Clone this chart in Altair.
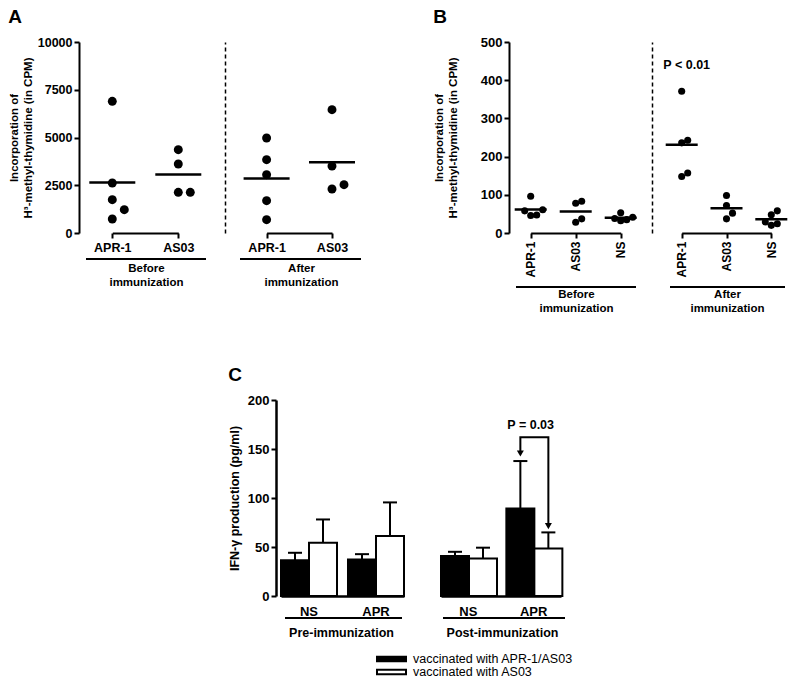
import altair as alt
import pandas as pd

FONT = "Liberation Sans"

# ---------------- data ----------------
a_cats = ["APR-1", "AS03"]
a_before_apr1 = [6895, 2618, 1745, 1222, 733]
a_before_as03 = [4363, 3613, 2130, 2130]
a_after_apr1 = [4974, 3839, 3054, 1693, 698]
a_after_as03 = [6457, 3508, 2531, 2304]
a_yticks = [0, 2500, 5000, 7500, 10000]

b_cats = ["APR-1", "AS03", "NS"]
b_before_apr1 = [96, 61, 58, 47, 46]
b_before_as03 = [83, 78, 37, 28]
b_before_ns = [53, 41, 38, 35, 32]
b_after_apr1 = [371, 243, 236, 157, 148]
b_after_as03 = [98, 72, 52, 37]
b_after_ns = [58, 48, 29, 24, 20]
b_yticks = [0, 100, 200, 300, 400, 500]

c_stims = ["NS", "APR"]
c_vaccines = ["vaccinated with APR-1/AS03", "vaccinated with AS03"]
c_pre_apr_mean = [36.6, 37.3]
c_pre_apr_err = [44.1, 42.7]
c_pre_as03_mean = [54.3, 61.1]
c_pre_as03_err = [78.1, 95.5]
c_post_apr_mean = [40.7, 89.4]
c_post_apr_err = [45.1, 137.7]
c_post_as03_mean = [38.3, 48.5]
c_post_as03_err = [49.3, 64.9]
c_yticks = [0, 50, 100, 150, 200]
c_bracket_y = [145.5, 162, 162, 71.3]
c_arrow_y = [145.5, 71.3]
c_p_text_y = 175

NO_FRAME = alt.ViewBackground(stroke=None)


# ---------------- helpers ----------------
def swarm(values, px_per_unit, diam, step):
    placed = []
    offs = [0.0] * len(values)
    order = sorted(range(len(values)), key=lambda i: values[i])
    cands = [0.0]
    for j in range(1, 12):
        cands += [j * step, -j * step]
    for i in order:
        y = values[i] * px_per_unit
        chosen = cands[-1]
        for c in cands:
            if all((c - px) ** 2 + (y - py) ** 2 >= diam ** 2 - 1e-6 for px, py in placed):
                chosen = c
                break
        placed.append((chosen, y))
        offs[i] = chosen
    return offs


def scatter_frame(cats, series, px_per_unit, diam, step):
    rows = []
    for cat, vals in zip(cats, series):
        for v, o in zip(vals, swarm(vals, px_per_unit, diam, step)):
            rows.append({"cat": cat, "value": v, "dodge": o})
    return pd.DataFrame(rows)


def ax(**kw):
    base = dict(labelFont=FONT, titleFont=FONT, labelColor="black", titleColor="black",
                labelFontWeight="bold", titleFontWeight="bold", domainColor="black",
                tickColor="black", grid=False)
    base.update(kw)
    return alt.Axis(**base)


one = pd.DataFrame({"k": [0]})


def underline(x0, x1, y):
    return alt.Chart(one).mark_rule(color="black", strokeWidth=1.8).encode(
        x=alt.value(x0), x2=alt.value(x1), y=alt.value(y))


def pscale(cats, rng):
    return alt.Scale(type="point", domain=cats, range=rng, padding=0)


def scatter_sub(df, cats, xrange, width, height, ydomain, yaxis, xaxis,
                psize, tlen, uline, extra=None, title=None):
    xs = alt.X("cat:N", scale=pscale(cats, xrange), axis=xaxis)
    ys = alt.Y("value:Q", scale=alt.Scale(domain=ydomain, nice=False), axis=yaxis)
    pts = alt.Chart(df).mark_circle(size=psize, color="black", opacity=1).encode(
        x=xs, y=ys,
        xOffset=alt.XOffset("dodge:Q", scale=alt.Scale(domain=[-40, 40], range=[-40, 40])))
    mean = alt.Chart(df).mark_tick(color="black", size=tlen, thickness=2.5, opacity=1).encode(
        x=xs, y=alt.Y("mean(value):Q", scale=alt.Scale(domain=ydomain, nice=False), axis=yaxis))
    layers = [pts, mean, uline]
    if extra is not None:
        layers.append(extra)
    ch = alt.layer(*layers).properties(width=width, height=height, view=NO_FRAME)
    if title is not None:
        ch = ch.properties(title=title)
    return ch


def panel_title(t):
    return alt.TitleParams(text=t, anchor="start", frame="bounds", font=FONT, fontSize=19,
                           fontWeight="bold", color="black", offset=9)


def dash_axis():
    return alt.Axis(labels=False, ticks=False, title=None, grid=False, domainColor="black",
                    domainWidth=1.5, domainDash=[4, 3])


ytitle_cpm = ["Incorporation  of", "H\u00b3-methyl-thymidine  (in  CPM)"]

# ---------------- panel A ----------------
A_H = 191
a_ppu = A_H / 10000
dfa_b = scatter_frame(a_cats, [a_before_apr1, a_before_as03], a_ppu, 12, 12)
dfa_a = scatter_frame(a_cats, [a_after_apr1, a_after_as03], a_ppu, 12, 12)
a_yaxis = ax(values=a_yticks, format="d", title=ytitle_cpm, titleFontSize=11.5, titleLineHeight=14,
             titlePadding=4, labelFontSize=12.5, labelPadding=2, tickSize=5, tickWidth=2, domainWidth=2)


def a_xaxis(lbl, tx):
    return ax(title=lbl, titleX=tx, titleFontSize=11.5, titleLineHeight=14, titlePadding=9,
              labelFontSize=12.5, labelAngle=0, labelPadding=3, tickSize=5, tickWidth=2, domainWidth=2)


A_before = scatter_sub(dfa_b, a_cats, [33.3, 99.3], 146, A_H, [0, 10000], a_yaxis,
                       a_xaxis(["Before", "immunization"], 67), 80, 46, underline(7, 127, 217),
                       title=panel_title("A"))
A_after = scatter_sub(dfa_a, a_cats, [41.6, 107], 142, A_H, [0, 10000], dash_axis(),
                      a_xaxis(["After", "immunization"], 76), 80, 46, underline(15, 136, 217))
A = alt.hconcat(A_before, A_after, spacing=0, bounds="flush")

# ---------------- panel B ----------------
b_ppu = A_H / 500
dfb_b = scatter_frame(b_cats, [b_before_apr1, b_before_as03, b_before_ns], b_ppu, 6, 6)
dfb_a = scatter_frame(b_cats, [b_after_apr1, b_after_as03, b_after_ns], b_ppu, 6, 6)
b_yaxis = ax(values=b_yticks, format="d", title=ytitle_cpm, titleFontSize=11.5, titleLineHeight=14,
             titlePadding=22, labelFontSize=13, labelPadding=2, tickSize=5, tickWidth=2, domainWidth=2)


def b_xaxis(lbl, tx):
    return ax(title=lbl, titleX=tx, titleFontSize=11.5, titleLineHeight=14, titlePadding=11,
              labelFontSize=12, labelAngle=270, labelPadding=3, tickSize=5, tickWidth=2, domainWidth=2)


p_df = pd.DataFrame({"cat": ["APR-1"], "value": [440], "t": ["P < 0.01"]})
p_text = alt.Chart(p_df).mark_text(font=FONT, fontSize=12.5, fontWeight="bold", color="black", dx=5).encode(
    x=alt.X("cat:N", scale=pscale(b_cats, [29.7, 119.3]), axis=b_xaxis(["After", "immunization"], 75)),
    y=alt.Y("value:Q", scale=alt.Scale(domain=[0, 500], nice=False), axis=dash_axis()),
    text="t:N")

B_before = scatter_sub(dfb_b, b_cats, [21.7, 111.7], 143, A_H, [0, 500], b_yaxis,
                       b_xaxis(["Before", "immunization"], 67), 50, 32, underline(7, 127, 245),
                       title=panel_title("B"))
B_after = scatter_sub(dfb_a, b_cats, [29.7, 119.3], 134, A_H, [0, 500], dash_axis(),
                      b_xaxis(["After", "immunization"], 75), 50, 32, underline(18, 133, 245),
                      extra=p_text)
B = alt.hconcat(B_before, B_after, spacing=0, bounds="flush")

top = alt.hconcat(A, B, spacing=66)

# ---------------- panel C ----------------
C_H = 196


def bar_frame(apr_mean, apr_err, as_mean, as_err):
    rows = []
    for s, m1, e1, m2, e2 in zip(c_stims, apr_mean, apr_err, as_mean, as_err):
        rows.append({"stim": s, "vaccine": c_vaccines[0], "mean": m1, "err": e1})
        rows.append({"stim": s, "vaccine": c_vaccines[1], "mean": m2, "err": e2})
    return pd.DataFrame(rows)


dfc_pre = bar_frame(c_pre_apr_mean, c_pre_apr_err, c_pre_as03_mean, c_pre_as03_err)
dfc_post = bar_frame(c_post_apr_mean, c_post_apr_err, c_post_as03_mean, c_post_as03_err)

c_yaxis = ax(values=c_yticks, format="d", title="IFN-\u03b3 production (pg/ml)", titleFontSize=12.5,
             titlePadding=6, labelFontSize=13, labelPadding=2, tickSize=5, tickWidth=2, domainWidth=2.5)

legend = alt.Legend(orient="none", legendX=100, legendY=253, title=None,
                    symbolType="M-1,-0.16H1V0.16H-1Z", symbolSize=841,
                    symbolStrokeColor="black", symbolStrokeWidth=2, symbolOpacity=1,
                    labelFont=FONT, labelFontSize=12.5, labelColor="black", labelOffset=6,
                    clipHeight=12, rowPadding=0, padding=0, labelLimit=300)


def c_sub(df, xrange, width, lbl, tx, yaxis, uline, show_legend, extra_fn=None, title=None):
    xs = alt.X("stim:N", scale=alt.Scale(type="band", domain=c_stims, range=xrange,
                                         paddingInner=0.164, paddingOuter=0),
               axis=ax(title=lbl, titleX=tx, titleFontSize=12.5, titlePadding=8, labelFontSize=13,
                       labelAngle=0, labelPadding=9, ticks=False, domainWidth=2.5))
    xo = alt.XOffset("vaccine:N", scale=alt.Scale(domain=c_vaccines, paddingInner=0, paddingOuter=0))
    ysc = alt.Scale(domain=[0, 200], nice=False)
    bars = alt.Chart(df).mark_bar(stroke="black", strokeWidth=2, opacity=1).encode(
        x=xs, xOffset=xo, y=alt.Y("mean:Q", scale=ysc, axis=yaxis),
        fill=alt.Fill("vaccine:N", scale=alt.Scale(domain=c_vaccines, range=["black", "white"]),
                      legend=legend if show_legend else None))
    errs = alt.Chart(df).mark_rule(color="black", strokeWidth=2).encode(
        x=xs, xOffset=xo, y=alt.Y("mean:Q", scale=ysc, axis=yaxis), y2="err:Q")
    caps = alt.Chart(df).mark_tick(color="black", size=14, thickness=2, opacity=1).encode(
        x=xs, xOffset=xo, y=alt.Y("err:Q", scale=ysc, axis=yaxis))
    layers = [errs, bars, caps, uline]
    if extra_fn is not None:
        layers += extra_fn(xs, xo, ysc, yaxis)
    ch = alt.layer(*layers).properties(width=width, height=C_H, view=NO_FRAME)
    if title is not None:
        ch = ch.properties(title=title)
    return ch


def post_extras(xs, xo, ysc, yaxis):
    bracket_df = pd.DataFrame({"stim": ["APR"] * 4,
                               "vaccine": [c_vaccines[0], c_vaccines[0], c_vaccines[1], c_vaccines[1]],
                               "y": c_bracket_y, "seq": [0, 1, 2, 3]})
    arrow_df = pd.DataFrame({"stim": ["APR", "APR"], "vaccine": c_vaccines, "y": c_arrow_y})
    ptxt_df = pd.DataFrame({"stim": ["APR"], "y": [c_p_text_y], "t": ["P = 0.03"]})
    bracket = alt.Chart(bracket_df).mark_line(color="black", strokeWidth=2).encode(
        x=xs, xOffset=xo, y=alt.Y("y:Q", scale=ysc, axis=yaxis), order="seq:Q")
    arrows = alt.Chart(arrow_df).mark_point(shape="triangle-down", filled=True, size=49, color="black",
                                             opacity=1).encode(
        x=xs, xOffset=xo, y=alt.Y("y:Q", scale=ysc, axis=yaxis))
    ptxt = alt.Chart(ptxt_df).mark_text(font=FONT, fontSize=12.5, fontWeight="bold", color="black",
                                        dx=-3).encode(
        x=xs, y=alt.Y("y:Q", scale=ysc, axis=yaxis), text="t:N")
    return [bracket, arrows, ptxt]


C_pre = c_sub(dfc_pre, [5, 128], 146, "Pre-immunization", 65, c_yaxis, underline(9, 126, 218), True,
              title=panel_title("C"))
C_post = c_sub(dfc_post, [19, 139], 148, "Post-immunization", 80, None, underline(21, 143, 218), False,
               extra_fn=post_extras)
c_inner = alt.hconcat(C_pre, C_post, spacing=0, bounds="flush") \
    .resolve_scale(fill="independent").resolve_legend(fill="independent")

spacer = alt.Chart(one).mark_point(opacity=0).encode(
    x=alt.X("k:Q", axis=None), y=alt.Y("k:Q", axis=None)).properties(width=144, height=C_H, view=NO_FRAME)

c_row = alt.hconcat(spacer, c_inner, spacing=5)

chart = alt.vconcat(top, c_row, spacing=52).properties(padding=0) \
    .configure_view(stroke=None).configure(font=FONT)

chart.save("out.html", embed_options={"renderer": "svg", "actions": False})
